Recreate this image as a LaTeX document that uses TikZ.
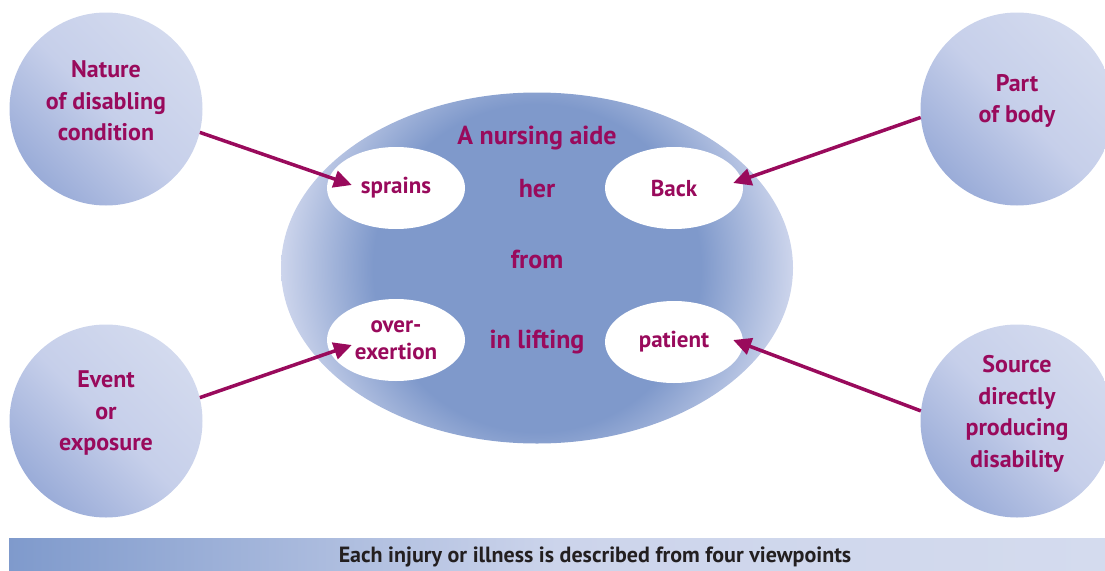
\documentclass[tikz,border=0pt]{standalone}
\usepackage{fontspec}
\setmainfont{PT Sans}
\usetikzlibrary{positioning, arrows.meta, shapes.geometric}
\definecolor{injmagenta}{HTML}{990A5C}
\definecolor{coremid}{HTML}{7F99CB}
\definecolor{corerim}{HTML}{CDD5EC}
\definecolor{circlight}{HTML}{D3DAEE}
\definecolor{circmid}{HTML}{C6CFEA}
\definecolor{circdark}{HTML}{9AACD8}
\definecolor{barleft}{HTML}{7F9ACC}
\definecolor{barmid}{HTML}{CCD4EB}
\definecolor{barright}{HTML}{D4DBEE}
\definecolor{captiongray}{HTML}{231F20}
\pgfdeclareradialshading{coreshade}{\pgfpoint{0bp}{0bp}}{%
  color(0bp)=(coremid); color(16bp)=(coremid);
  color(25bp)=(corerim); color(50bp)=(corerim)}

\begin{document}
\begin{tikzpicture}[x=1pt, y=-1pt,
  view/.style={
    circle, minimum size=193pt, inner sep=0pt,
    top color=circlight, bottom color=circdark, middle color=circmid,
    shading angle=-45
  },
  viewtext/.style={
    font=\fontsize{24}{31.5}\selectfont\bfseries, text=injmagenta, align=center
  },
  part/.style={
    ellipse, fill=white, minimum width=138pt, minimum height=82pt,
    inner sep=0pt, align=center,
    font=\fontsize{23}{27}\selectfont\bfseries, text=injmagenta
  },
  word/.style={anchor=base, font=\fontsize{26}{30}\selectfont\bfseries, text=injmagenta},
  arr/.style={-{Triangle[length=18pt, width=17pt]}, line width=3.5pt, color=injmagenta},
]
\useasboundingbox (0,0) rectangle (1105,570);

% Viewpoint circles
\node[view] (nature) at (106,109) {};
\node[viewtext] (natureText) at (106,101) {Nature\\of disabling\\condition};
\node[view] (body) at (1017,109) {};
\node[viewtext] (bodyText) at (1017,101) {Part\\of body};
\node[view] (event) at (106,421) {};
\node[viewtext] (eventText) at (106,413) {Event\\or\\exposure};
\node[view] (source) at (1017,421) {};
\node[viewtext] (sourceText) at (1017,414) {Source\\directly\\producing\\disability};

% The case in the middle
\node[ellipse, minimum width=512pt, minimum height=351pt, inner sep=0pt,
  path picture={\shade[shading=coreshade] (path picture bounding box.center) circle (256pt);}]
  (core) at (537,268) {};
\node[part] (sprains) at (396,188) {sprains};
\node[part] (back) at (674,188) {Back};
\node[part] (over) at (396,340) {over-\\exertion};
\node[part] (patient) at (674,342) {patient};
\node[word] (aide) at (537,144) {A nursing aide};
\node[word] (her) at (537,197) {her};
\node[word] (from) at (537,268) {from};
\node[word] (lifting) at (537,348) {in lifting};

% Arrows
\draw[arr] (nature.-14) -- ([xshift=25pt, yshift=3pt]sprains.west);
\draw[arr] (body.185) -- ([xshift=-10pt, yshift=5pt]back.east);
\draw[arr] (event.14) -- ([xshift=25pt, yshift=-5pt]over.west);
\draw[arr] (source.174) -- ([xshift=-10pt, yshift=2pt]patient.east);

% Caption bar
\node[minimum width=1096pt, minimum height=32pt, inner sep=0pt,
  left color=barleft, right color=barright, middle color=barmid] (strip) at (557,554) {};
\node[anchor=base, font=\fontsize{22}{24}\selectfont\bfseries, text=captiongray]
  (caption) at (595,562) {Each injury or illness is described from four viewpoints};
\end{tikzpicture}
\end{document}
